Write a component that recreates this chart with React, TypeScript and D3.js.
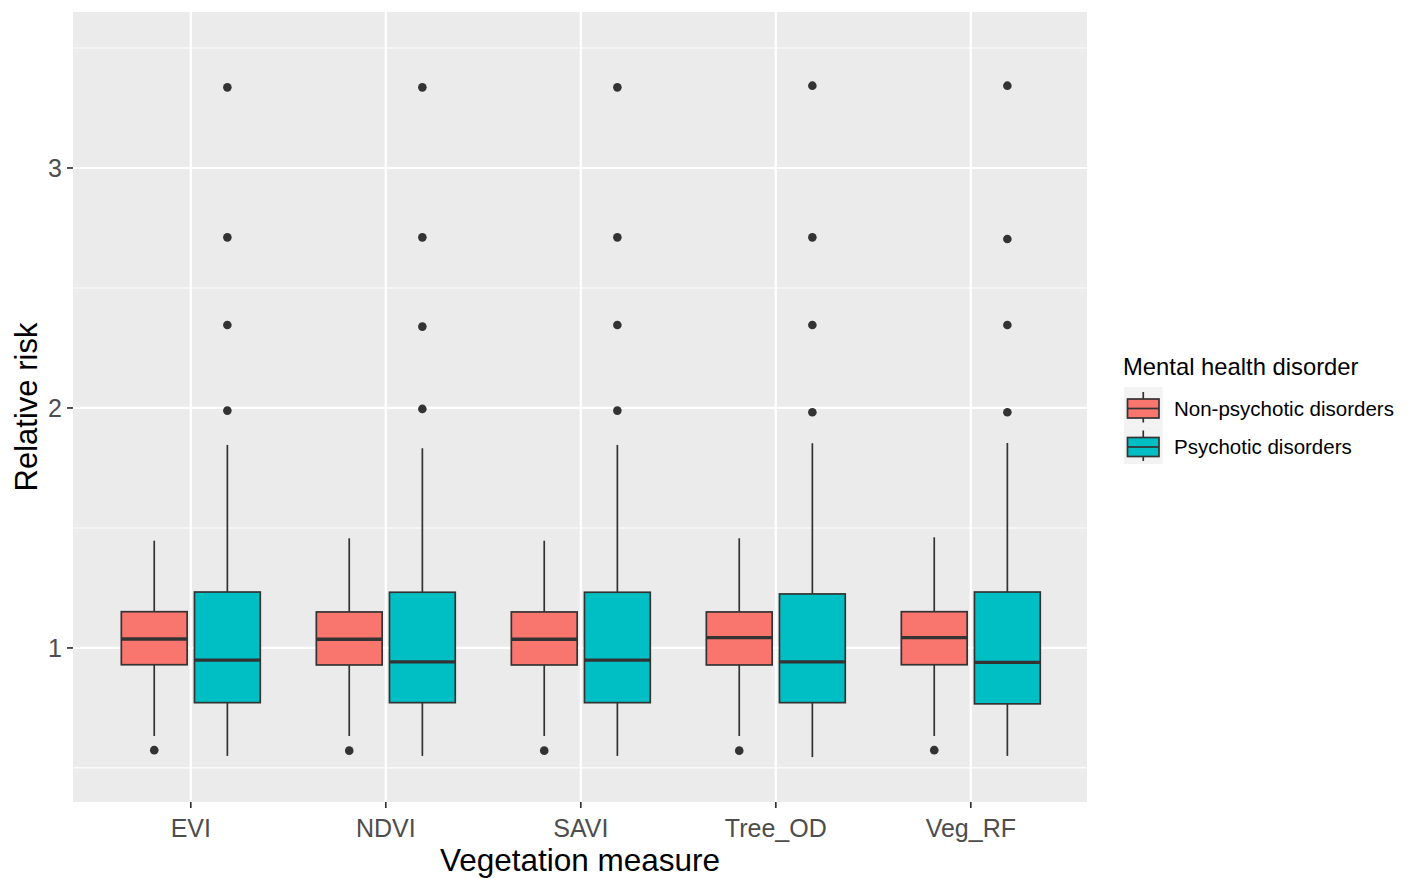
import React from "react";
import * as d3 from "d3";

const categories = ["EVI", "NDVI", "SAVI", "Tree_OD", "Veg_RF"];
const groups = ["Non-psychotic disorders", "Psychotic disorders"];
const groupColors = ["#F8766D", "#00BFC4"];

// Non-psychotic disorders box statistics
const nonLow = [0.633, 0.633, 0.633, 0.633, 0.633];
const nonQ1 = [0.93, 0.929, 0.929, 0.929, 0.93];
const nonMed = [1.0375, 1.036, 1.036, 1.043, 1.043];
const nonQ3 = [1.151, 1.15, 1.15, 1.15, 1.151];
const nonHigh = [1.447, 1.457, 1.447, 1.457, 1.461];
const nonOut = [[0.574], [0.572], [0.572], [0.572], [0.574]];

// Psychotic disorders box statistics
const psyLow = [0.55, 0.55, 0.55, 0.545, 0.55];
const psyQ1 = [0.772, 0.772, 0.772, 0.772, 0.767];
const psyMed = [0.949, 0.942, 0.949, 0.942, 0.94];
const psyQ3 = [1.233, 1.232, 1.232, 1.225, 1.233];
const psyHigh = [1.846, 1.832, 1.846, 1.853, 1.854];
const psyOut = [
  [1.989, 2.346, 2.711, 3.336],
  [1.996, 2.339, 2.711, 3.336],
  [1.989, 2.346, 2.711, 3.336],
  [1.982, 2.346, 2.711, 3.343],
  [1.982, 2.346, 2.704, 3.343],
];

const yMajor = [1, 2, 3];
const yMinor = [0.5, 1.5, 2.5, 3.5];

const FONT = "'Liberation Sans', Arial, sans-serif";

export default function App() {
  const W = 1408, H = 878;
  const left = 73, right = 1087, top = 12, bottom = 802;

  const x = d3.scalePoint<string>().domain(categories).range([left + 0.8, right + 0.8]).padding(0.6);
  const step = x.step();
  const y = d3.scaleLinear().domain([0.358, 3.65]).range([bottom, top]);

  const series = [
    { low: nonLow, q1: nonQ1, med: nonMed, q3: nonQ3, high: nonHigh, out: nonOut },
    { low: psyLow, q1: psyQ1, med: psyMed, q3: psyQ3, high: psyHigh, out: psyOut },
  ];
  const dodge = d3.scaleBand<number>().domain([0, 1]).range([-0.375 * step, 0.375 * step]);
  const boxW = dodge.bandwidth() * 0.9;

  const legendX = 1124, legendY = 387, keySize = 38.5;

  return (
    <svg width={W} height={H} style={{ position: "absolute", left: 0, top: 0, background: "#fff" }}>
      <rect x={left} y={top} width={right - left} height={bottom - top} fill="#EBEBEB" />
      {yMinor.map((v) => (
        <line key={"mn" + v} x1={left} x2={right} y1={y(v)} y2={y(v)} stroke="#fff" strokeWidth={1.1} />
      ))}
      {yMajor.map((v) => (
        <line key={"mj" + v} x1={left} x2={right} y1={y(v)} y2={y(v)} stroke="#fff" strokeWidth={2.2} />
      ))}
      {categories.map((c) => (
        <line key={"vx" + c} x1={x(c)} x2={x(c)} y1={top} y2={bottom} stroke="#fff" strokeWidth={2.2} />
      ))}

      {categories.map((c, i) =>
        series.map((s, g) => {
          const cx = (x(c) as number) + (dodge(g) as number) + dodge.bandwidth() / 2;
          return (
            <g key={c + g}>
              <line x1={cx} x2={cx} y1={y(s.high[i])} y2={y(s.q3[i])} stroke="#333" strokeWidth={1.7} />
              <line x1={cx} x2={cx} y1={y(s.q1[i])} y2={y(s.low[i])} stroke="#333" strokeWidth={1.7} />
              <rect
                x={cx - boxW / 2}
                y={y(s.q3[i])}
                width={boxW}
                height={y(s.q1[i]) - y(s.q3[i])}
                fill={groupColors[g]}
                stroke="#333"
                strokeWidth={1.7}
              />
              <line x1={cx - boxW / 2} x2={cx + boxW / 2} y1={y(s.med[i])} y2={y(s.med[i])} stroke="#333" strokeWidth={3.4} />
              {s.out[i].map((o, k) => (
                <circle key={k} cx={cx} cy={y(o)} r={4.3} fill="#333" />
              ))}
            </g>
          );
        })
      )}

      {/* Y axis */}
      {yMajor.map((v) => (
        <g key={"yt" + v}>
          <line x1={left - 6} x2={left} y1={y(v)} y2={y(v)} stroke="#333" strokeWidth={1.7} />
          <text x={left - 11} y={y(v)} dy="0.36em" textAnchor="end" fontFamily={FONT} fontSize={25} fill="#4D4D4D">
            {v}
          </text>
        </g>
      ))}
      {/* X axis */}
      {categories.map((c) => (
        <g key={"xt" + c}>
          <line x1={x(c)} x2={x(c)} y1={bottom} y2={bottom + 6} stroke="#333" strokeWidth={1.7} />
          <text x={x(c)} y={bottom + 35} textAnchor="middle" fontFamily={FONT} fontSize={25} fill="#4D4D4D">
            {c}
          </text>
        </g>
      ))}
      <text x={(left + right) / 2} y={871} textAnchor="middle" fontFamily={FONT} fontSize={31.5} fill="#000">
        Vegetation measure
      </text>
      <text
        transform={`translate(37, ${(top + bottom) / 2}) rotate(-90)`}
        textAnchor="middle"
        fontFamily={FONT}
        fontSize={31}
        fill="#000"
      >
        Relative risk
      </text>

      {/* Legend */}
      <text x={1123} y={375} fontFamily={FONT} fontSize={23.8} fill="#000">
        Mental health disorder
      </text>
      {groups.map((gname, g) => {
        const ky = legendY + g * keySize;
        const kcx = legendX + keySize / 2;
        return (
          <g key={"lg" + g}>
            <rect x={legendX} y={ky} width={keySize} height={keySize} fill="#F2F2F2" />
            <line x1={kcx} x2={kcx} y1={ky + 5} y2={ky + keySize - 3} stroke="#333" strokeWidth={1.7} />
            <rect
              x={legendX + 3.5}
              y={ky + 12}
              width={keySize - 7}
              height={19}
              fill={groupColors[g]}
              stroke="#333"
              strokeWidth={1.7}
            />
            <line x1={legendX + 3.5} x2={legendX + keySize - 3.5} y1={ky + 21.5} y2={ky + 21.5} stroke="#333" strokeWidth={1.7} />
            <text x={1174} y={ky + keySize / 2 + 2} dy="0.36em" fontFamily={FONT} fontSize={20.5} fill="#000">
              {gname}
            </text>
          </g>
        );
      })}
    </svg>
  );
}
